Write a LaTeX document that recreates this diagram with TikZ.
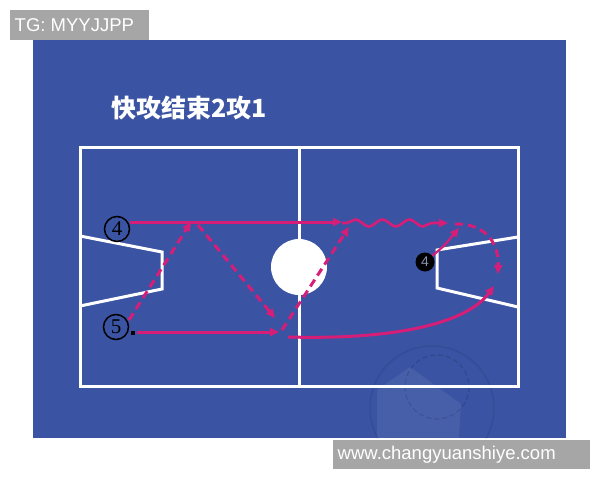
\documentclass[tikz,border=0pt]{standalone}
\usepackage{fontspec}
\setmainfont{Liberation Sans}
\newfontfamily\cjk{Noto Sans CJK SC}
\newfontfamily\serifdigits{Liberation Serif}
\usetikzlibrary{arrows.meta,decorations.pathmorphing}
\definecolor{bluebg}{RGB}{58,83,163}
\definecolor{mag}{RGB}{214,30,120}
\definecolor{labelgray}{RGB}{166,166,166}
\definecolor{digitgray}{RGB}{140,148,185}
\begin{document}
\begin{tikzpicture}[x=1pt,y=-1pt,
  court/.style={white,line width=3pt,line join=miter},
  tipstyle/.style={-{Triangle[length=9pt,width=8pt]}},
  runline/.style={mag,line width=3pt,tipstyle},
  passline/.style={runline,dash pattern=on 8pt off 5pt},
  dribble/.style={mag,line width=2.6pt,tipstyle,decorate,
    decoration={snake,amplitude=3.5pt,segment length=27pt,pre length=5pt,post length=8pt}},
  circplayer/.style={circle,draw=black,line width=1.5pt,inner sep=0pt,minimum size=25pt,
    font=\serifdigits\fontsize{21}{21}\selectfont,text=black},
  blackplayer/.style={circle,fill=black,inner sep=0pt,minimum size=19pt,
    font=\fontsize{14}{14}\selectfont,text=digitgray},
  labeltext/.style={text=white,font=\fontsize{18.5}{18.5}\selectfont,inner sep=0pt,anchor=west}]
\useasboundingbox (0,0) rectangle (600,480);
\fill[white] (0,0) rectangle (600,480);
\fill[bluebg] (33,40) rectangle (566,438);
% faint watermark
\begin{scope}
\clip (33,40) rectangle (566,438);
\fill[white,opacity=0.07] (377,438) -- (377,390) -- (410,367) -- (461,404) -- (459,438) -- cycle;
\draw[black,opacity=0.08,line width=1.5pt] (432,408) circle (62);
\draw[black,opacity=0.12,line width=1.3pt,dash pattern=on 5pt off 3pt] (437,387) circle (32);
\end{scope}
% labels
\fill[labelgray] (10,10) rectangle (149,40);
\node[labeltext] (tg) at (14.5,25.5) {TG: MYYJJPP};
\fill[labelgray] (333,440) rectangle (590,469);
\node[labeltext] (www) at (337.5,455) {www.changyuanshiye.com};
% title
\node[text=white,font=\cjk\bfseries\fontsize{25}{25}\selectfont,inner sep=0pt] (title) at (189,108) {快攻结束2攻1};
% court
\draw[court] (80,147) rectangle (518,386);
\draw[court] (299,147) -- (299,386);
\draw[court] (80,236) -- (162,252) -- (162,289) -- (80,306);
\draw[court] (518,237) -- (437,250) -- (437,288) -- (518,307);
\fill[white] (299,267) circle (28);
% players
\node[circplayer] (p4) at (117,229) {4};
\node[circplayer] (p5) at (116,327) {5};
\fill[black] (131,331) rectangle (135,335);
\node[blackplayer] (k4) at (425,262) {4};
% coordinates
\coordinate (a1) at (130,222);
\coordinate (a2) at (342,222);
\coordinate (w1) at (342,223);
\coordinate (w2) at (448,223);
\coordinate (c1) at (455,224);
\coordinate (c2) at (498,274);
\coordinate (e1) at (129,320);
\coordinate (e2) at (191,222);
\coordinate (f1) at (198,225);
\coordinate (f2) at (275,318);
\coordinate (g1) at (282,330);
\coordinate (g2) at (349,227);
\coordinate (h1) at (137,332);
\coordinate (h2) at (279,332);
\coordinate (i1) at (288,337);
\coordinate (i2) at (494,286);
\coordinate (j2) at (459,228);
% runs and passes
\draw[runline] (a1) -- (a2);
\draw[dribble] (w1) -- (w2);
\draw[passline] (c1) .. controls (482,223) and (499,240) .. (c2);
\draw[runline,line width=2.2pt] (k4) .. controls (444,246) .. (j2);
\draw[passline] (e1) -- (e2);
\draw[passline] (f1) -- (f2);
\draw[passline] (g1) -- (g2);
\draw[runline] (h1) -- (h2);
\draw[runline] (i1) .. controls (400,340) and (468,322) .. (i2);
\end{tikzpicture}
\end{document}
